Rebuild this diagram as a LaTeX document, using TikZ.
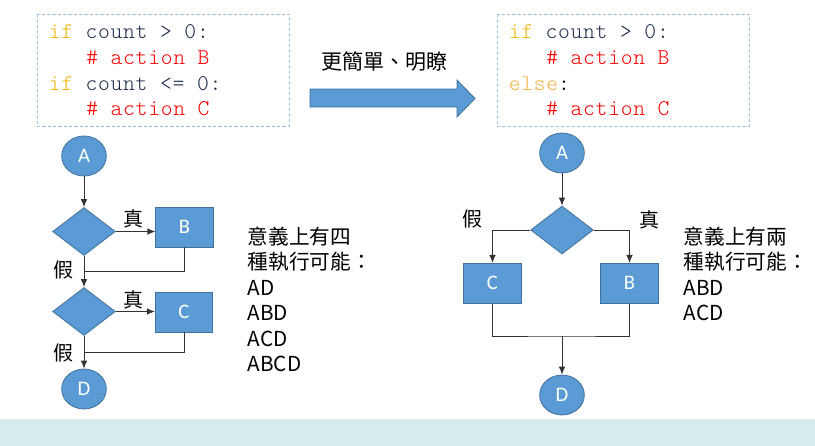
\documentclass[tikz,border=0pt]{standalone}
\usepackage{fontspec}
\usetikzlibrary{shapes.geometric,arrows.meta}
\newfontfamily\cjk{Noto Sans CJK TC}
\newfontfamily\codefont{Latin Modern Mono Light}[LetterSpace=3.1]
\newfontfamily\lblfont{Carlito}
\definecolor{nodefill}{HTML}{5B9BD5}
\definecolor{nodeedge}{HTML}{41719C}
\definecolor{boxedge}{HTML}{9DC3E6}
\definecolor{kwif}{HTML}{F0B400}
\definecolor{kwelse}{HTML}{F4B14A}
\definecolor{codedark}{HTML}{1F2D4D}
\definecolor{codered}{HTML}{FF0000}
\definecolor{band}{HTML}{D5ECEF}
\definecolor{conn}{HTML}{333333}
\tikzset{
  term/.style={ellipse, draw=nodeedge, fill=nodefill, line width=0.6pt,
    minimum width=33.5pt, minimum height=30pt, inner sep=0pt,
    text=white, font=\lblfont\fontsize{15.5}{18}\selectfont},
  proc/.style={rectangle, draw=nodeedge, fill=nodefill, line width=0.6pt,
    minimum width=43pt, minimum height=30pt, inner sep=0pt,
    text=white, font=\lblfont\fontsize{15.5}{18}\selectfont},
  decide/.style={diamond, draw=nodeedge, fill=nodefill, line width=0.6pt,
    minimum width=47pt, minimum height=36pt, inner sep=0pt, aspect=1.3},
  codebox/.style={draw=boxedge, line width=0.75pt, dash pattern=on 2.5pt off 1.5pt},
  codeline/.style={anchor=base west, inner sep=0pt, font=\codefont\fontsize{16.9}{20}\selectfont},
  txt/.style={anchor=base west, inner sep=0pt, font=\cjk\fontsize{15.5}{19}\selectfont},
  yn/.style={inner sep=0pt, font=\cjk\fontsize{15}{18}\selectfont},
  conn/.style={draw=conn, line width=0.75pt},
  arr/.style={conn, -{Latex[length=6pt,width=5pt]}},
}
\begin{document}
\begin{tikzpicture}[x=0.75pt, y=-0.75pt]
\useasboundingbox (0,0) rectangle (815,446);
\fill[band] (0,419) rectangle (815,446);

% code boxes
\draw[codebox] (37,14) rectangle (289,126);
\node[codeline] (l1) at (48.5,38.7) {\textcolor{kwif}{if}\ \textcolor{codedark}{count > 0:}};
\node[codeline] (l2) at (48.5,64.3) {\ \ \ \textcolor{codered}{\# action B}};
\node[codeline] (l3) at (48.5,90) {\textcolor{kwif}{if}\ \textcolor{codedark}{count <= 0:}};
\node[codeline] (l4) at (48.5,115.6) {\ \ \ \textcolor{codered}{\# action C}};

\draw[codebox] (497,14) rectangle (749,126);
\node[codeline] (r1) at (508.5,38.7) {\textcolor{kwif}{if}\ \textcolor{codedark}{count > 0:}};
\node[codeline] (r2) at (508.5,64.3) {\ \ \ \textcolor{codered}{\# action B}};
\node[codeline] (r3) at (508.5,90) {\textcolor{kwelse}{else}\textcolor{black}{:}};
\node[codeline] (r4) at (508.5,115.6) {\ \ \ \textcolor{codered}{\# action C}};

% big arrow
\draw[fill=nodefill, draw=nodeedge, line width=0.6pt]
  (310,89) -- (457,89) -- (457,80) -- (475,98.5) -- (457,117) -- (457,107) -- (310,107) -- cycle;
\node[inner sep=0pt, font=\cjk\fontsize{15.75}{19}\selectfont] (sl) at (384,62) {更簡單、明瞭};

% left flowchart
\node[term] (A) at (84,156) {A};
\node[decide] (d1) at (84,231.5) {};
\node[proc] (B) at (184.5,227) {B};
\node[decide] (d2) at (84,311.5) {};
\node[proc] (C) at (184,312) {C};
\node[term] (D) at (84,389) {D};
\coordinate (m1) at (84,271);
\coordinate (m2) at (84,352.5);
\draw[arr] (A.south) -- (d1.north);
\draw[arr] (d1.east) -- (d1.east -| B.west);
\draw[conn] (B.south) |- (m1);
\draw[arr] (d1.south) -- (d2.north);
\draw[arr] (d2.east) -- (d2.east -| C.west);
\draw[conn] (C.south) |- (m2);
\draw[arr] (d2.south) -- (D.north);
\node[yn] (t1) at (133,219) {真};
\node[yn] (f1) at (63,270) {假};
\node[yn] (t2) at (133,299.5) {真};
\node[yn] (f2) at (63,352.5) {假};

\node[txt] (la) at (247.5,244) {意義上有四};
\node[txt] (lb) at (247.5,269.5) {種執行可能：};
\node[txt] (lc) at (247.5,295) {AD};
\node[txt] (ld) at (247.5,320.5) {ABD};
\node[txt] (le) at (247.5,346) {ACD};
\node[txt] (lf) at (247.5,371.5) {ABCD};

% right flowchart
\node[term] (A2) at (562,153) {A};
\node[decide] (d3) at (562,230) {};
\node[proc] (C2) at (492.5,283.3) {C};
\node[proc] (B2) at (629.5,283.3) {B};
\node[term] (D2) at (562,395) {D};
\coordinate (m3) at (562,336);
\draw[arr] (A2.south) -- (d3.north);
\draw[arr] (d3.west) -| (C2.north);
\draw[arr] (d3.east) -| (B2.north);
\draw[conn] (C2.south) |- (m3) -| (B2.south);
\draw[arr] (m3) -- (D2.north);
\node[yn] (f3) at (472,218.5) {假};
\node[yn] (t3) at (649,219.5) {真};

\node[txt] (ra) at (683.5,244) {意義上有兩};
\node[txt] (rb) at (683.5,269.5) {種執行可能：};
\node[txt] (rc) at (683.5,295) {ABD};
\node[txt] (rd) at (683.5,320.5) {ACD};
\end{tikzpicture}
\end{document}
